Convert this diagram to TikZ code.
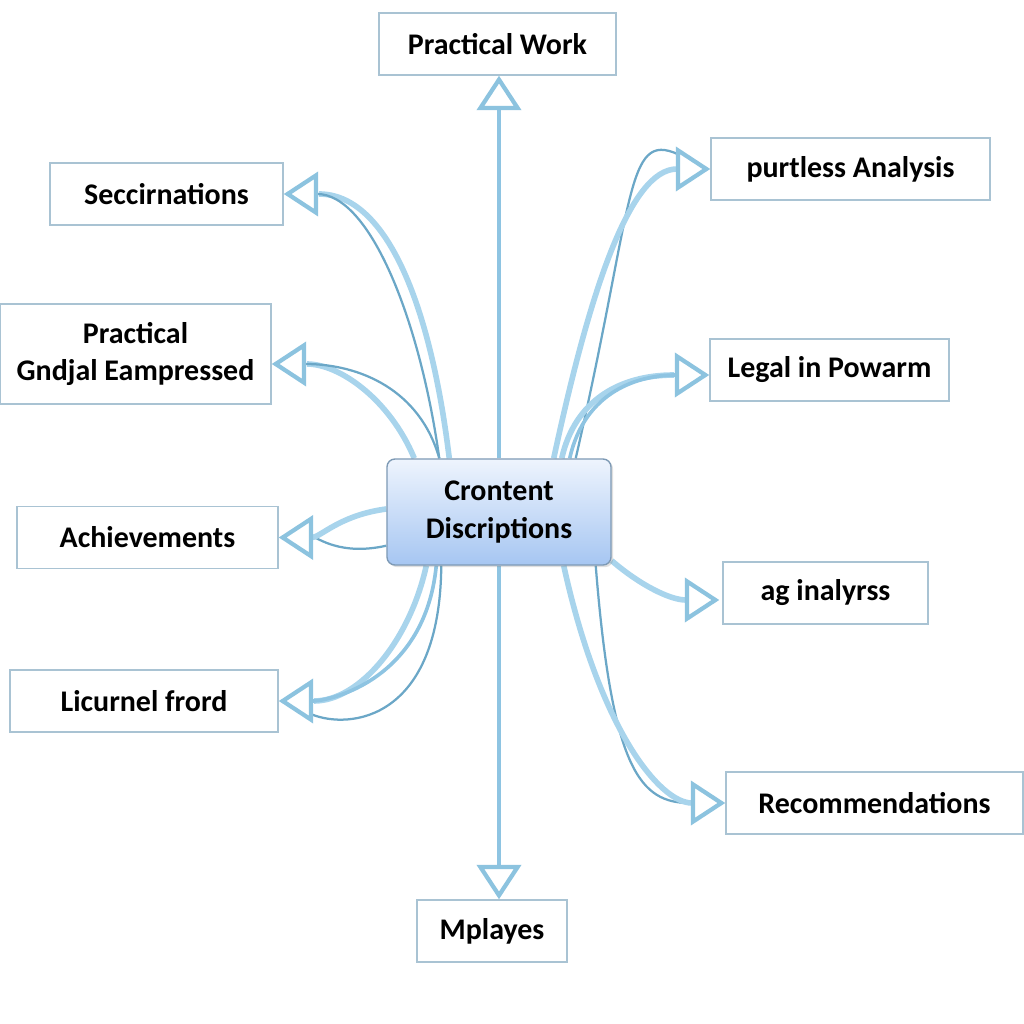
\documentclass[tikz,border=0pt]{standalone}
\usepackage{fontspec}
\setmainfont{Carlito}
\usetikzlibrary{arrows.meta,calc,shadows}
\definecolor{boxline}{HTML}{A9C3D3}
\definecolor{lite}{HTML}{A8D4EC}
\definecolor{mid}{HTML}{8EC4E2}
\definecolor{dark}{HTML}{6BA7C7}
\definecolor{tipc}{HTML}{8CC3DF}
\definecolor{ctop}{HTML}{EEF4FD}
\definecolor{cbot}{HTML}{A6C6F2}
\definecolor{cline}{HTML}{7E9AB5}
\pgfdeclarelayer{bg}
\pgfsetlayers{bg,main}
\begin{document}
\begin{tikzpicture}[x=0.025cm,y=-0.025cm,
  lbl/.style={font=\bfseries\fontsize{21.3}{26.5}\selectfont, align=center},
  box/.style={lbl, draw=boxline, line width=1pt, fill=white, minimum height=1.55cm, inner sep=2pt},
  hub/.style={lbl, draw=cline, line width=1pt, rounded corners=0.2cm, top color=ctop, bottom color=cbot,
    minimum width=5.6cm, minimum height=2.65cm, drop shadow={opacity=0.25,shadow xshift=1.5pt,shadow yshift=-1.5pt}},
  tipped/.style={-{Triangle[length=0.86cm,width=1.1cm,line width=3pt,color=tipc,fill=white]}},
  plain/.style={shorten >=0.88cm},
  lt/.style={draw=lite,line width=4pt},
  md/.style={draw=mid,line width=2.6pt},
  dk/.style={draw=dark,line width=1.6pt},
]
\useasboundingbox (0,0) rectangle (1024,1024);

\node[hub] (c) at (499,512) {Crontent\\Discriptions};
\node[box, minimum width=5.925cm] (pw) at (497.5,44) {Practical Work};
\node[box, minimum width=5.825cm] (s) at (166.5,194) {Seccirnations};
\node[box, minimum width=6.775cm, minimum height=2.5cm] (g) at (135.5,354) {Practical\\Gndjal Eampressed};
\node[box, minimum width=6.525cm] (a) at (147.5,537.5) {Achievements};
\node[box, minimum width=6.7cm] (l) at (144,701) {Licurnel frord};
\node[box, minimum width=3.75cm] (m) at (492,931) {Mplayes};
\node[box, minimum width=6.975cm] (p) at (850.5,169) {purtless Analysis};
\node[box, minimum width=5.975cm] (le) at (829.5,370) {Legal in Powarm};
\node[box, minimum width=5.125cm] (ag) at (825.5,593) {ag inalyrss};
\node[box, minimum width=7.425cm] (r) at (874.5,803) {Recommendations};

\coordinate (gt) at ($(g.east)+(0,10)$);
\coordinate (let) at ($(le.west)+(0,5)$);
\coordinate (agt) at ($(ag.west)+(-3,7)$);

\begin{pgfonlayer}{bg}
% vertical
\draw[md,tipped] (c.north) -- (c.north |- pw.south);
\draw[md,tipped] (c.south) -- (c.south |- m.north);
% Seccirnations
\draw[lt,plain] ($(c.north west)+(63,0)$) .. controls (430,300) and (385,194) .. (s.east);
\draw[dk,tipped] ($(c.north west)+(53,0)$) .. controls (420,320) and (370,194) .. (s.east);
% Practical Gndjal
\draw[lt,plain] ($(c.north west)+(28,0)$) .. controls (390,400) and (340,364) .. (gt);
\draw[dk,tipped] ($(c.north west)+(53,0)$) .. controls (420,390) and (360,364) .. (gt);
% Achievements
\draw[dk,plain] ($(c.south west)+(0,-20)$) .. controls (340,556) and (318,537.5) .. (a.east);
\draw[lt,tipped] ($(c.west)+(0,-3)$) .. controls (340,515) and (320,537.5) .. (a.east);
% Licurnel
\draw[dk,plain] ($(c.south west)+(55,0)$) .. controls (440,720) and (350,730) .. (l.east);
\draw[lt,plain] ($(c.south west)+(40,0)$) .. controls (410,640) and (360,701) .. (l.east);
\draw[md,tipped] ($(c.south west)+(50,0)$) .. controls (425,680) and (330,701) .. (l.east);
% purtless
\draw[dk,plain] ($(c.north east)+(-36,0)$) .. controls (635,200) and (625,130) .. (p.west);
\draw[lt,tipped] ($(c.north east)+(-58,0)$) .. controls (590,290) and (630,169) .. (p.west);
% Legal
\draw[lt,plain] ($(c.north east)+(-50,0)$) .. controls (575,400) and (620,375) .. (let);
\draw[md,tipped] ($(c.north east)+(-42,0)$) .. controls (585,390) and (640,375) .. (let);
% ag
\draw[lt,tipped] ($(c.south east)+(0,-5)$) .. controls (640,585) and (670,600) .. (agt);
% Recommendations
\draw[dk,plain] ($(c.south east)+(-16,0)$) .. controls (612,770) and (640,803) .. (r.west);
\draw[lt,tipped] ($(c.south east)+(-48,0)$) .. controls (600,730) and (660,803) .. (r.west);
\end{pgfonlayer}
\end{tikzpicture}
\end{document}
